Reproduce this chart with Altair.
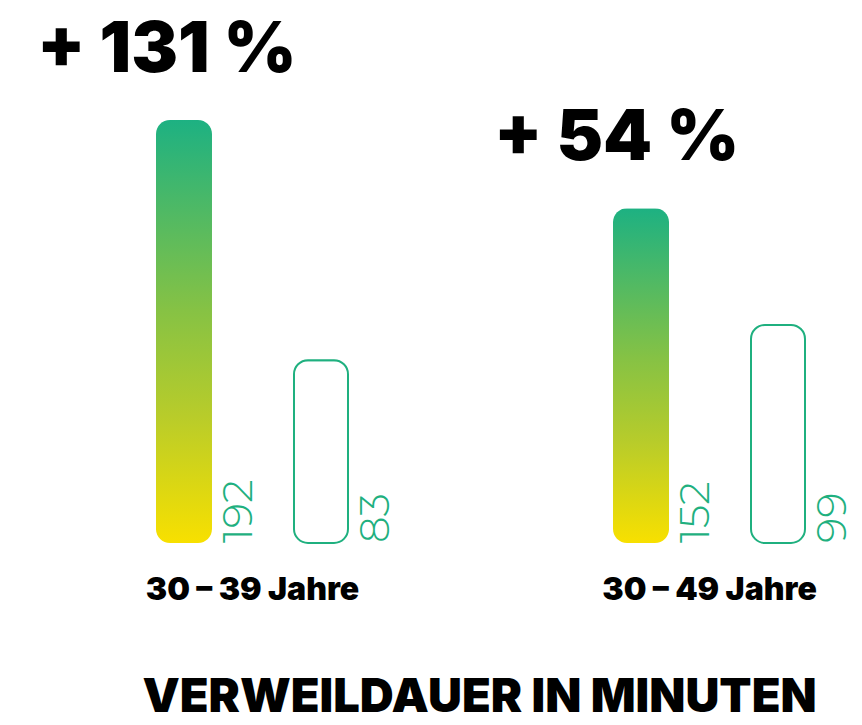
import altair as alt
import pandas as pd

groups = ["30 – 39 Jahre", "30 – 49 Jahre"]
current = [192, 152]
compare = [83, 99]
pct_labels = ["+ 131 %", "+ 54 %"]
axis_title = "VERWEILDAUER IN MINUTEN"

df = pd.DataFrame({
    "group": groups,
    "current": current,
    "compare": compare,
    "pct": pct_labels,
    "zero": [0, 0],
})

GREEN = "#1fb07f"
BLACK_FONT = "Inter"
OFF = 68.5

x_enc = alt.X(
    "group:N",
    sort=groups,
    scale=alt.Scale(paddingInner=0.5, paddingOuter=0.1931, align=0.7833),
    axis=alt.Axis(
        title=axis_title,
        domain=False,
        ticks=False,
        grid=False,
        labelAngle=0,
        labelLimit=0,
        labelFont=BLACK_FONT,
        labelFontWeight=900,
        labelFontSize=32,
        labelColor="#000000",
        labelPadding=31,
        titleFont=BLACK_FONT,
        titleFontWeight=900,
        titleFontSize=47,
        titleColor="#000000",
        titleX=479,
        titleY=168,
        titleBaseline="alphabetic",
        titleAnchor="middle",
        titleAlign="center",
        titleLimit=0,
    ),
)
yscale = alt.Scale(domain=[0, 246.5], nice=False, zero=True)

gradient = alt.Gradient(
    gradient="linear",
    x1=0, y1=1, x2=0, y2=0,
    stops=[
        alt.GradientStop(color="#f8e000", offset=0),
        alt.GradientStop(color="#b8cc2a", offset=0.3),
        alt.GradientStop(color="#86c244", offset=0.55),
        alt.GradientStop(color="#1db182", offset=1),
    ],
)

base = alt.Chart(df)

filled = base.mark_bar(
    size=56, cornerRadius=14, color=gradient, xOffset=-OFF
).encode(x=x_enc, y=alt.Y("current:Q", scale=yscale, axis=None))

hollow = base.mark_bar(
    size=54, cornerRadius=14, fill="white", stroke=GREEN, strokeWidth=2, xOffset=OFF
).encode(x=x_enc, y=alt.Y("compare:Q", scale=yscale, axis=None))

text_style = dict(
    angle=270, align="left", baseline="alphabetic", dy=68,
    font="Montserrat, Inter", fontWeight=300, fontSize=42, color=GREEN
)
values_a = base.mark_text(xOffset=-OFF, **text_style).encode(
    x=x_enc, y=alt.Y("zero:Q", scale=yscale, axis=None), text="current:Q"
)
values_b = base.mark_text(xOffset=OFF, **text_style).encode(
    x=x_enc, y=alt.Y("zero:Q", scale=yscale, axis=None), text="compare:Q"
)

pct = base.mark_text(
    align="left", baseline="alphabetic", dx=-147, dy=-48, xOffset=-OFF,
    font=BLACK_FONT, fontWeight=900, fontSize=70, color="#000000"
).encode(x=x_enc, y=alt.Y("current:Q", scale=yscale, axis=None), text="pct:N")

chart = (
    alt.layer(filled, hollow, values_a, values_b, pct)
    .properties(
        width=862,
        height=543,
        autosize=alt.AutoSizeParams(type="none"),
        padding={"left": 0, "top": 0, "right": 0, "bottom": 182},
        background="white",
    )
    .configure_view(stroke=None)
)

chart.save("out.html", embed_options={"renderer": "svg", "actions": False})
